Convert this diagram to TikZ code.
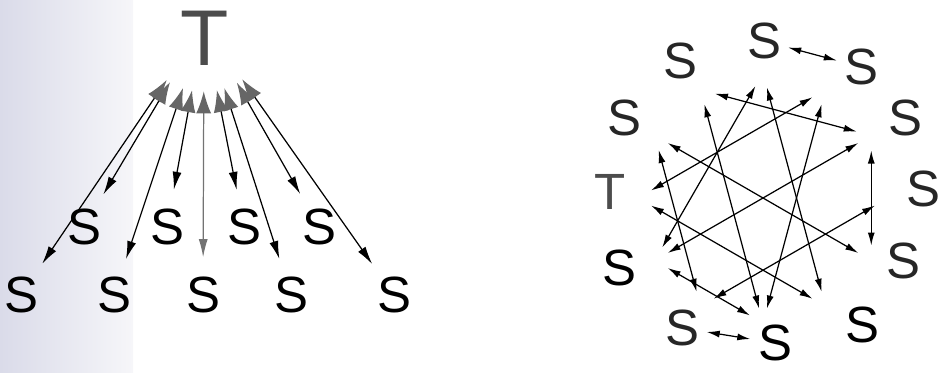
\documentclass[tikz,border=0pt]{standalone}
\usepackage{fontspec}
\setmainfont{Liberation Sans}
\usetikzlibrary{positioning, calc, arrows.meta}
\usepackage{xcolor}

\definecolor{scanleft}{RGB}{218,219,233}
\definecolor{scanmid}{RGB}{246,246,249}

\begin{document}
\begin{tikzpicture}[
    letter/.style={circle, minimum size=1.5cm, inner sep=0pt,
                   font=\fontsize{29}{29}\selectfont},
    bigT/.style={inner sep=0pt, text=black!70,
                 font=\fontsize{45}{45}\selectfont},
    hub/.style={circle, minimum size=2.64cm, inner sep=0pt},
    ringletter/.style={circle, minimum size=0.88cm, inner sep=0pt,
                       text=#1, font=\fontsize{29}{29}\selectfont},
    ringletter/.default=black,
    fan/.style={{Latex[length=0.44cm, width=0.3cm, color=black!60]}-{Latex[length=0.36cm, width=0.18cm]},
                line width=0.7pt},
    chord/.style={{Latex[length=0.26cm, width=0.14cm]}-{Latex[length=0.26cm, width=0.14cm]},
                  line width=0.7pt, shorten <=0.3cm, shorten >=0.3cm},
    link/.style={{Latex[length=0.26cm, width=0.14cm]}-{Latex[length=0.26cm, width=0.14cm]},
                 line width=0.7pt},
]
\useasboundingbox (0,0) rectangle (18.84,7.44);

% scanned page edge
\fill[left color=scanleft, right color=scanmid] (0,0) rectangle (2.66,7.44);

% Star: one T, nine S
\node[bigT] (tl) at (4.10,6.67) {T};
\node[hub] (hubl) at (4.08,6.94) {};

\node[letter] (sb1) at (0.42,1.54) {S};
\node[letter] (sb2) at (2.28,1.54) {S};
\node[letter] (sb3) at (4.06,1.54) {S};
\node[letter] (sb4) at (5.82,1.54) {S};
\node[letter] (sb5) at (7.88,1.54) {S};

\node[letter] (su1) at (1.68,2.90) {S};
\node[letter] (su2) at (3.34,2.90) {S};
\node[letter] (su3) at (4.88,2.90) {S};
\node[letter] (su4) at (6.38,2.90) {S};

\draw[fan] (hubl) -- (sb1);
\draw[fan] (hubl) -- (su1);
\draw[fan] (hubl) -- (sb2);
\draw[fan] (hubl) -- (su2);
\draw[fan, draw=black!55] (hubl) -- (sb3);
\draw[fan] (hubl) -- (su3);
\draw[fan] (hubl) -- (sb4);
\draw[fan] (hubl) -- (su4);
\draw[fan] (hubl) -- (sb5);

% Ring: one T, eleven S
\coordinate (ring) at (15.26,3.48);

\node[ringletter=black!85] (r0) at (15.28,6.62) {S};
\node[ringletter=black!85] (r1) at (17.22,6.10) {S};
\node[ringletter=black!85] (r2) at (18.10,5.08) {S};
\node[ringletter=black!85] (r3) at (18.46,3.66) {S};
\node[ringletter=black!85] (r4) at (18.06,2.22) {S};
\node[ringletter] (r5) at (17.24,0.94) {S};
\node[ringletter] (r6) at (15.50,0.58) {S};
\node[ringletter=black!85] (r7) at (13.64,0.88) {S};
\node[ringletter] (r8) at (12.38,2.08) {S};
\node[ringletter=black!70] (r9) at (12.20,3.60) {T};
\node[ringletter=black!85] (r10) at (12.48,5.08) {S};
\node[ringletter=black!85] (r11) at (13.60,6.22) {S};

\coordinate (p0) at ($(ring)+(90:2.5)$);
\coordinate (p1) at ($(ring)+(60:2.5)$);
\coordinate (p2) at ($(ring)+(30:2.5)$);
\coordinate (p3) at ($(ring)+(0:2.5)$);
\coordinate (p4) at ($(ring)+(-30:2.5)$);
\coordinate (p5) at ($(ring)+(-60:2.5)$);
\coordinate (p6) at ($(ring)+(-90:2.5)$);
\coordinate (p7) at ($(ring)+(-120:2.5)$);
\coordinate (p8) at ($(ring)+(-150:2.5)$);
\coordinate (p9) at ($(ring)+(180:2.5)$);
\coordinate (p10) at ($(ring)+(150:2.5)$);
\coordinate (p11) at ($(ring)+(120:2.5)$);

\draw[link] (r0) -- (r1);
\draw[link] (r7) -- (r6);

\draw[chord] (p11) -- (p2);
\draw[chord] (p2) -- (p4);
\draw[chord] (p1) -- (p9);
\draw[chord] (p3) -- (p7);
\draw[chord] (p0) -- (p8);
\draw[chord] (p0) -- (p5);
\draw[chord] (p11) -- (p6);
\draw[chord] (p1) -- (p6);
\draw[chord] (p2) -- (p8);
\draw[chord] (p10) -- (p7);
\draw[chord] (p8) -- (p6);
\draw[chord] (p10) -- (p4);
\draw[chord] (p9) -- (p5);

\end{tikzpicture}
\end{document}
